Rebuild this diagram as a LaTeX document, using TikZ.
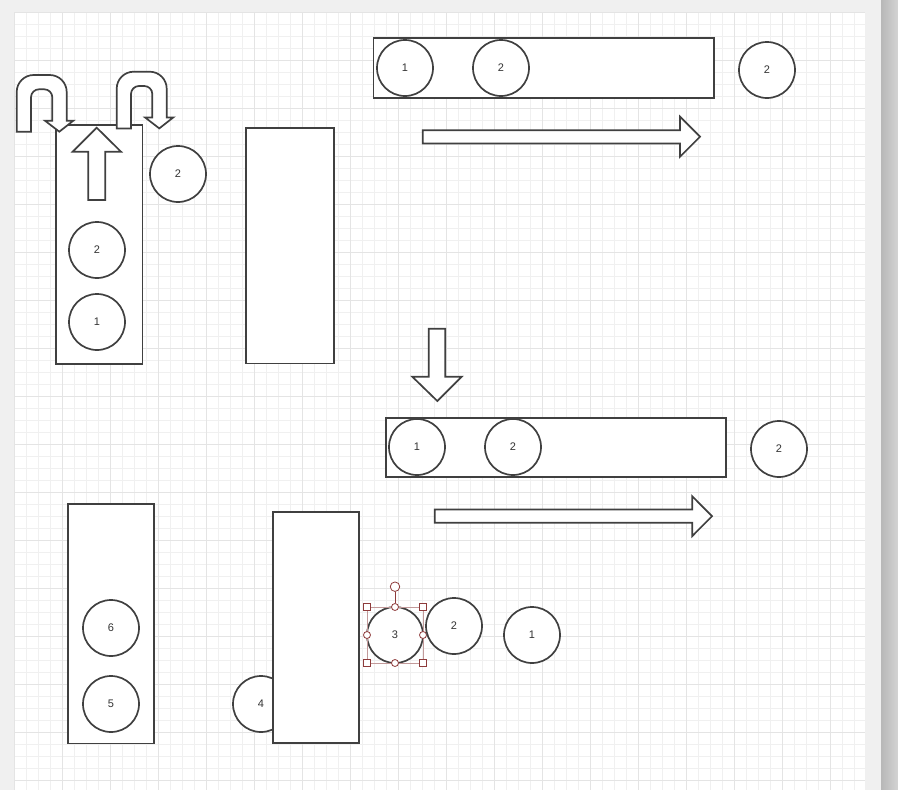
\documentclass[tikz,border=0pt]{standalone}
\usepackage{fontspec}
\setmainfont{Liberation Sans}
\definecolor{ln}{HTML}{404040}
\definecolor{txt}{HTML}{333333}
\definecolor{bgc}{HTML}{F0F0F0}
\definecolor{gmin}{HTML}{F0F0F0}
\definecolor{gmaj}{HTML}{E4E4E4}
\definecolor{selc}{HTML}{8E3B3B}
\definecolor{selr}{HTML}{C29A9A}
\tikzset{
  shp/.style={draw=ln, line width=1.7pt, fill=white},
  box/.style={shp, rectangle, inner sep=0pt},
  ball/.style={shp, circle, minimum size=56pt, inner sep=0pt, font=\fontsize{11}{13}\selectfont, text=txt},
  blk/.style={draw=ln, line width=1.7pt, fill=white, line join=miter},
  hsq/.style={draw=selc, line width=0.8pt, fill=white, rectangle, minimum size=6.5pt, inner sep=0pt},
  hci/.style={draw=selc, line width=0.8pt, fill=white, circle, minimum size=7pt, inner sep=0pt},
  gridmin/.style={draw=gmin, line width=0.7pt},
  gridmaj/.style={draw=gmaj, line width=0.7pt},
}
\begin{document}
\begin{tikzpicture}[x=1pt,y=-1pt]
% background and grid
\fill[bgc] (0,0) rectangle (898,790);
\useasboundingbox (0,0) rectangle (898,790);
\fill[white] (14,12) rectangle (865,790);
\foreach \i in {0,...,70} \draw[gridmin] ({14+12*\i},12) -- ({14+12*\i},790);
\foreach \j in {0,...,64} \draw[gridmin] (14,{12+12*\j}) -- (865,{12+12*\j});
\foreach \i in {0,...,17} \draw[gridmaj] ({14+48*\i},12) -- ({14+48*\i},790);
\foreach \j in {0,...,16} \draw[gridmaj] (14,{12+48*\j}) -- (865,{12+48*\j});
\shade[left color=black!28, right color=black!17] (881,0) rectangle (898,790);

% left tall box with up arrow and circles
\node[box, minimum width=86.5pt, minimum height=239pt] (boxL) at (99.2,244.5) {};
\draw[blk] (96.7,127.7) -- (121,151.7) -- (105.3,151.7) -- (105.3,200) -- (88.3,200) -- (88.3,151.7) -- (72.7,151.7) -- cycle;
\node[ball] (c1) at (97,250) {2};
\node[ball] (c2) at (97,322) {1};

% U-turn arrows
\foreach \dx/\dy in {0/0, 100/-3.3}{
\begin{scope}[shift={(\dx,\dy)}]
\draw[blk] (16.7,131.7) -- (16.7,92) .. controls (16.7,82.6) and (24.3,75) .. (33.7,75)
  -- (49.7,75) .. controls (59.1,75) and (66.7,82.6) .. (66.7,92)
  -- (66.7,120.7) -- (73.3,120.7) -- (59.3,131.7) -- (45,120.7) -- (52.3,120.7)
  -- (52.3,97.3) .. controls (52.3,92.9) and (48.7,89.3) .. (44.3,89.3)
  -- (39,89.3) .. controls (34.6,89.3) and (31,92.9) .. (31,97.3)
  -- (31,131.7) -- cycle;
\end{scope}}

\node[ball] (c3) at (178,174) {2};
\node[box, minimum width=88pt, minimum height=235.5pt] (boxM) at (290,245.7) {};

% top wide box
\node[box, minimum width=340.5pt, minimum height=60pt] (topR) at (543.7,67.7) {};
\node[ball] (c4) at (405,68) {1};
\node[ball] (c5) at (501,68) {2};
\node[ball] (c6) at (767,70) {2};
\draw[blk] (422.7,130.2) -- (680,130.2) -- (680,116.7) -- (700,136.7) -- (680,156.7) -- (680,143.4) -- (422.7,143.4) -- cycle;

% down arrow and middle wide box
\draw[blk] (428.7,328.7) -- (445.3,328.7) -- (445.3,376.7) -- (461.7,376.7) -- (437.3,401) -- (412.3,376.7) -- (428.7,376.7) -- cycle;
\node[box, minimum width=340.3pt, minimum height=59pt] (midR) at (555.8,447.2) {};
\node[ball] (c7) at (417,447) {1};
\node[ball] (c8) at (513,447) {2};
\node[ball] (c9) at (779,449) {2};
\draw[blk] (434.7,509.5) -- (692.3,509.5) -- (692.3,496.3) -- (712,516.2) -- (692.3,536) -- (692.3,522.7) -- (434.7,522.7) -- cycle;

% bottom left box
\node[box, minimum width=86.6pt, minimum height=239.3pt] (botL) at (111,623.7) {};
\node[ball] (c10) at (111,628) {6};
\node[ball] (c11) at (111,704) {5};

% circle 4 behind bottom middle box
\node[ball] (c12) at (261,704) {4};
\node[box, minimum width=86.6pt, minimum height=231.6pt] (botM) at (316,627.5) {};

% selected circle 3 with handles
\node[ball] (c13) at (395,635) {3};
\draw[selr, line width=0.6pt] (367,607) rectangle (423,663);
\node[hsq] (h1) at (367,607) {};
\node[hsq] (h2) at (423,607) {};
\node[hsq] (h3) at (367,663) {};
\node[hsq] (h4) at (423,663) {};
\node[hci] (hT) at (395,607) {};
\node[hci] (hB) at (395,663) {};
\node[hci] (hL) at (367,635) {};
\node[hci] (hR) at (423,635) {};
\node[hci, minimum size=9.5pt] (rot) at (395,586.7) {};
\draw[selc, line width=0.9pt] (rot) -- (hT);

\node[ball] (c14) at (454,626) {2};
\node[ball] (c15) at (532,635) {1};
\end{tikzpicture}
\end{document}
